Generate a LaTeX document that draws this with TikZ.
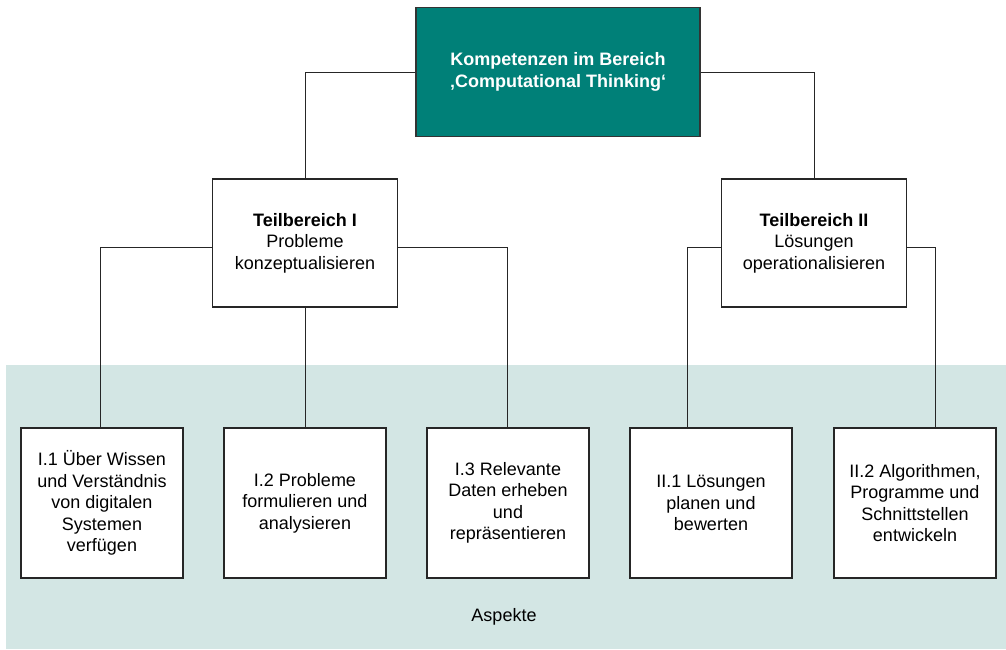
\documentclass[tikz,border=0pt]{standalone}
\usepackage{fontspec}
\setmainfont{Liberation Sans}
\definecolor{ctteal}{RGB}{0,128,120}
\definecolor{ctband}{RGB}{211,230,228}
\begin{document}
\begin{tikzpicture}[x=1pt, y=-1pt,
    font=\fontsize{18}{21.5}\selectfont,
    topbox/.style={draw=black!80, line width=1.2pt, fill=ctteal, text=white, font=\fontsize{18}{22}\selectfont\bfseries,
        minimum width=284pt, minimum height=129pt, align=center, inner sep=0pt},
    areabox/.style={draw=black!85, line width=1.2pt, fill=white, minimum width=185pt, minimum height=128pt,
        align=center, inner sep=0pt},
    aspectbox/.style={draw=black!85, line width=1.2pt, fill=white, minimum width=162pt, minimum height=150pt,
        align=center, inner sep=0pt},
    link/.style={draw=black!85, line width=0.9pt}]
    \useasboundingbox (0,0) rectangle (1006,649);

    % Aspekte band
    \fill[ctband] (6,365) rectangle (1006,649);
    \node (aspekte) at (504,617) {Aspekte};

    % Top
    \node[topbox] (ct) at (558,72) {Kompetenzen im Bereich\\‚Computational Thinking‘};

    % Teilbereiche
    \node[areabox] (tb1) at (305,243) {\textbf{Teilbereich I}\\Probleme\\konzeptualisieren};
    \node[areabox] (tb2) at (814,243) {\textbf{Teilbereich II}\\Lösungen\\operationalisieren};

    % Aspects
    \node[aspectbox] (a1) at (102,503) {I.1 Über Wissen\\und Verständnis\\von digitalen\\Systemen\\verfügen};
    \node[aspectbox] (a2) at (305,503) {I.2 Probleme\\formulieren und\\analysieren};
    \node[aspectbox] (a3) at (508,503) {I.3 Relevante\\Daten erheben\\und\\repräsentieren};
    \node[aspectbox] (b1) at (711,503) {II.1 Lösungen\\planen und\\bewerten};
    \node[aspectbox] (b2) at (915,503) {II.2 Algorithmen,\\Programme und\\Schnittstellen\\entwickeln};

    % Connections
    \draw[link] (ct.west) -| (tb1.north);
    \draw[link] (ct.east) -| (tb2.north);
    \draw[link] ([yshift=-4pt]tb1.west) -| ([xshift=-2pt]a1.north);
    \draw[link] (tb1.south) -- (a2.north);
    \draw[link] ([yshift=-4pt]tb1.east) -| ([xshift=-1pt]a3.north);
    \draw[link] ([yshift=-4pt]tb2.west) -| ([xshift=-24pt]b1.north);
    \draw[link] ([yshift=-4pt]tb2.east) -| ([xshift=20pt]b2.north);
\end{tikzpicture}
\end{document}
